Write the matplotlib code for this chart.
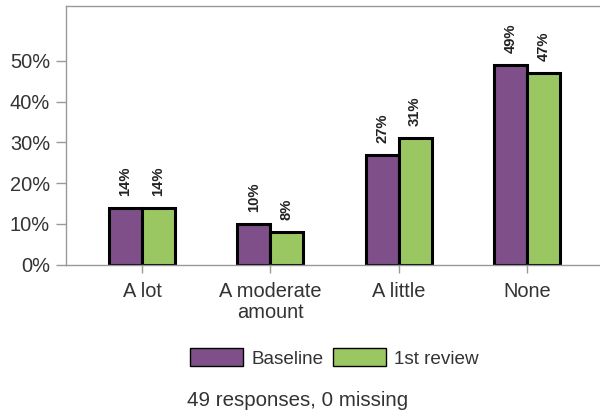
import numpy as np
import matplotlib.pyplot as plt
from matplotlib.patches import Patch

plt.rcParams['font.family'] = ['Liberation Sans', 'DejaVu Sans']

# data
categories = ['A lot', 'A moderate\namount', 'A little', 'None']
baseline = [14, 10, 27, 49]
review = [14, 8, 31, 47]
series_names = ['Baseline', '1st review']
yticks = [0, 10, 20, 30, 40, 50]

purple = '#7f4f8a'
green = '#9bc763'
grey = '#999999'
txt = '#333333'

fig = plt.figure(figsize=(6, 4.12), dpi=100)
ax = fig.add_axes([66 / 600, 1 - 264.5 / 412, 534 / 600, 258.5 / 412])

x = np.arange(len(categories))
w = 0.257
b1 = ax.bar(x - w / 2, baseline, w, color=purple, edgecolor='black', linewidth=2.2)
b2 = ax.bar(x + w / 2, review, w, color=green, edgecolor='black', linewidth=2.2)

for bars, vals in ((b1, baseline), (b2, review)):
    for r, v in zip(bars, vals):
        ax.annotate(f'{v}%', (r.get_x() + r.get_width() / 2, v),
                    xytext=(0, 8.5), textcoords='offset points',
                    rotation=90, ha='center', va='bottom',
                    fontsize=10.6, fontweight='bold', color='#222222')

ax.set_xlim(-0.592, 3.57)
ax.set_ylim(0, 63.5)
ax.set_yticks(yticks)
ax.set_yticklabels([f'{t}%' for t in yticks])
ax.set_xticks(x)
ax.set_xticklabels(categories, linespacing=1.1)

for s in ('left', 'top', 'bottom'):
    ax.spines[s].set_color(grey)
    ax.spines[s].set_linewidth(1)
ax.spines['right'].set_visible(False)
ax.tick_params(axis='both', colors=grey, labelcolor=txt, labelsize=14.4, width=1)
ax.tick_params(axis='y', length=7.2, pad=4.3)
ax.tick_params(axis='x', length=5.8, pad=7)

handles = [Patch(facecolor=purple, edgecolor='black', linewidth=1),
           Patch(facecolor=green, edgecolor='black', linewidth=1)]
fig.legend(handles, series_names, loc='center', bbox_to_anchor=(334.5 / 600, 1 - 358 / 412),
           ncol=2, frameon=False, fontsize=13.6, handlelength=2.8, handleheight=1.05,
           handletextpad=0.47, columnspacing=0.47, labelcolor=txt,
           borderpad=0, borderaxespad=0)

fig.text(297.5 / 600, 1 - 400 / 412, '49 responses, 0 missing', ha='center', va='center',
         fontsize=14.8, color=txt)

fig.savefig('out.png', dpi=100)
